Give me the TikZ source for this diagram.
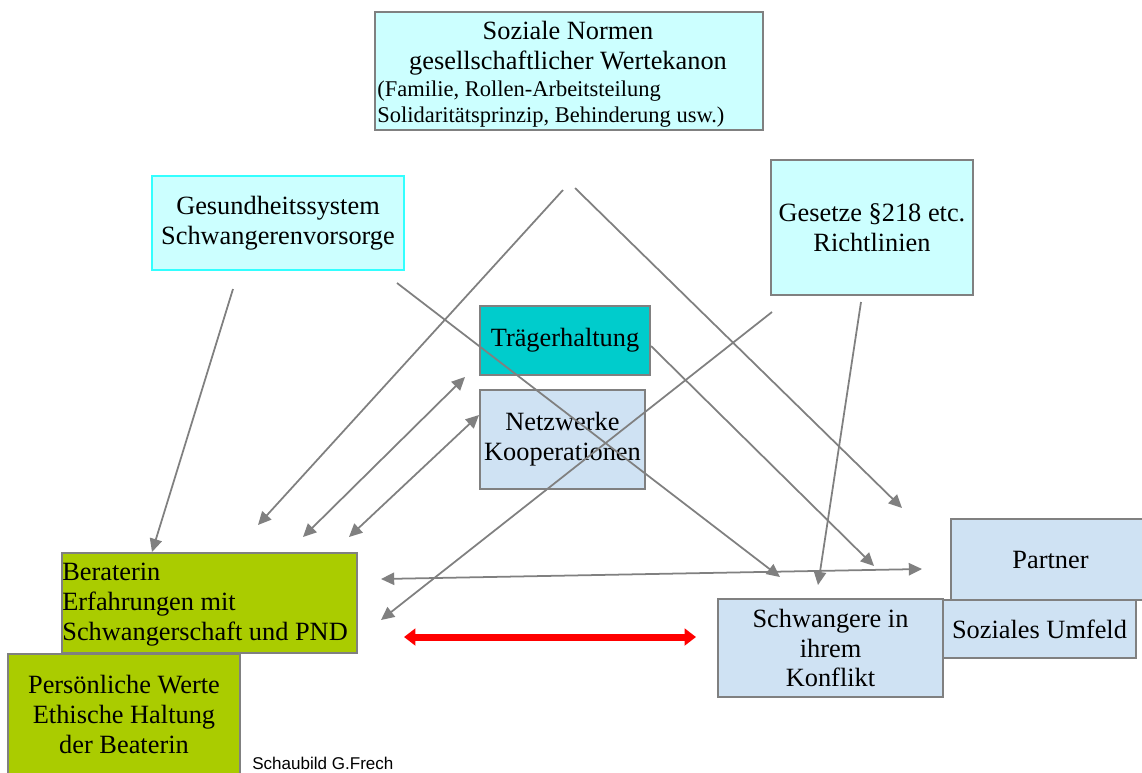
\documentclass[tikz,border=0pt]{standalone}
\usepackage{fontspec}
\setmainfont{Liberation Serif}
\newfontfamily\labelsans{Liberation Sans}
\usetikzlibrary{arrows.meta}
\definecolor{lcyan}{RGB}{204,255,255}
\definecolor{bcyan}{RGB}{51,255,255}
\definecolor{tealbox}{RGB}{0,204,204}
\definecolor{lblue}{RGB}{207,226,243}
\definecolor{lgreen}{RGB}{170,204,0}
\definecolor{bgray}{RGB}{128,128,128}
\begin{document}
\begin{tikzpicture}[x=0.02cm,y=-0.02cm,
  box/.style={draw=bgray,line width=1.1pt,inner sep=0pt,align=center,font=\fontsize{15}{17}\selectfont},
  txt/.style={inner sep=0pt,anchor=base,font=\fontsize{15}{17}\selectfont},
  conn/.style={draw=bgray,line width=1pt,-{Triangle[length=7.5pt,width=7pt]}},
  dblconn/.style={draw=bgray,line width=1pt,{Triangle[length=7.5pt,width=7pt]}-{Triangle[length=7.5pt,width=7pt]}},
  redarrow/.style={draw=red,line width=4pt,{Triangle[length=6.5pt,width=9.5pt]}-{Triangle[length=6.5pt,width=9.5pt]}}]
\fill[white] (0,0) rectangle (1142,772);
\useasboundingbox (0,0) rectangle (1142,772);

% Boxes
\node[box,fill=lcyan,minimum width=7.76cm,minimum height=2.36cm] (soz) at (569,71) {};
\node[txt] (soz1) at (568,39) {Soziale Normen};
\node[txt] (soz2) at (568,69) {gesellschaftlicher Wertekanon};
\node[txt,anchor=base west,font=\fontsize{12.8}{14}\selectfont] (soz3) at (377,96) {(Familie, Rollen-Arbeitsteilung};
\node[txt,anchor=base west,font=\fontsize{12.8}{14}\selectfont] (soz4) at (377,122) {Solidaritätsprinzip, Behinderung usw.)};

\node[box,fill=lcyan,draw=bcyan,minimum width=5.04cm,minimum height=1.88cm] (ges) at (278,223) {Gesundheitssystem\\Schwangerenvorsorge};
\node[box,fill=lcyan,minimum width=4.04cm,minimum height=2.7cm] (gst) at (872,227.5) {Gesetze §218 etc.\\Richtlinien};
\node[box,fill=tealbox,minimum width=3.4cm,minimum height=1.38cm] (trg) at (565,340.5) {Trägerhaltung};
\node[box,fill=lblue,minimum width=3.3cm,minimum height=1.98cm] (net) at (562.5,439.5) {Netzwerke\\Kooperationen};

\node[box,fill=lgreen,minimum width=5.9cm,minimum height=2cm] (ber) at (209.5,603) {};
\node[txt,anchor=base west] (ber1) at (62,580) {Beraterin};
\node[txt,anchor=base west] (ber2) at (62,610) {Erfahrungen mit};
\node[txt,anchor=base west] (ber3) at (62,640) {Schwangerschaft und PND};
\node[box,fill=lgreen,minimum width=4.64cm,minimum height=2.42cm] (pers) at (124,714.5) {Persönliche Werte\\Ethische Haltung\\der Beaterin};

\node[box,fill=lblue,minimum width=3.98cm,minimum height=1.62cm] (par) at (1050.5,559.5) {Partner};
\node[box,fill=lblue,minimum width=3.86cm,minimum height=1.16cm] (umf) at (1039.5,629) {Soziales Umfeld};
\node[box,fill=lblue,minimum width=4.5cm,minimum height=1.96cm] (schw) at (830.5,648) {Schwangere in\\ihrem\\Konflikt};

\node[txt,anchor=base west,font=\labelsans\fontsize{9.7}{11}\selectfont] (cap) at (252,769) {Schaubild G.Frech};

% Connector end points
\coordinate (a1) at (233,289);   \coordinate (a2) at (152,552);
\coordinate (b1) at (397,283);   \coordinate (b2) at (780,577);
\coordinate (c1) at (563,190);   \coordinate (c2) at (258,525);
\coordinate (c3) at (575,188);   \coordinate (c4) at (902,508);
\coordinate (d1) at (303,537);   \coordinate (d2) at (465,377);
\coordinate (e1) at (349,537);   \coordinate (e2) at (479,415);
\coordinate (f1) at (651,346);   \coordinate (f2) at (874,566);
\coordinate (g1) at (772,312);   \coordinate (g2) at (381,620);
\coordinate (h1) at (861,302);   \coordinate (h2) at (818,585);
\coordinate (i1) at (381,579);   \coordinate (i2) at (922,569);
\coordinate (j1) at (404,637);   \coordinate (j2) at (696,637);

% Connectors
\draw[conn] (a1) -- (a2);
\draw[conn] (b1) -- (b2);
\draw[conn] (c1) -- (c2);
\draw[conn] (c3) -- (c4);
\draw[dblconn] (d1) -- (d2);
\draw[dblconn] (e1) -- (e2);
\draw[conn] (f1) -- (f2);
\draw[conn] (g1) -- (g2);
\draw[conn] (h1) -- (h2);
\draw[dblconn] (i1) -- (i2);
\draw[redarrow] (j1) -- (j2);
\end{tikzpicture}
\end{document}
